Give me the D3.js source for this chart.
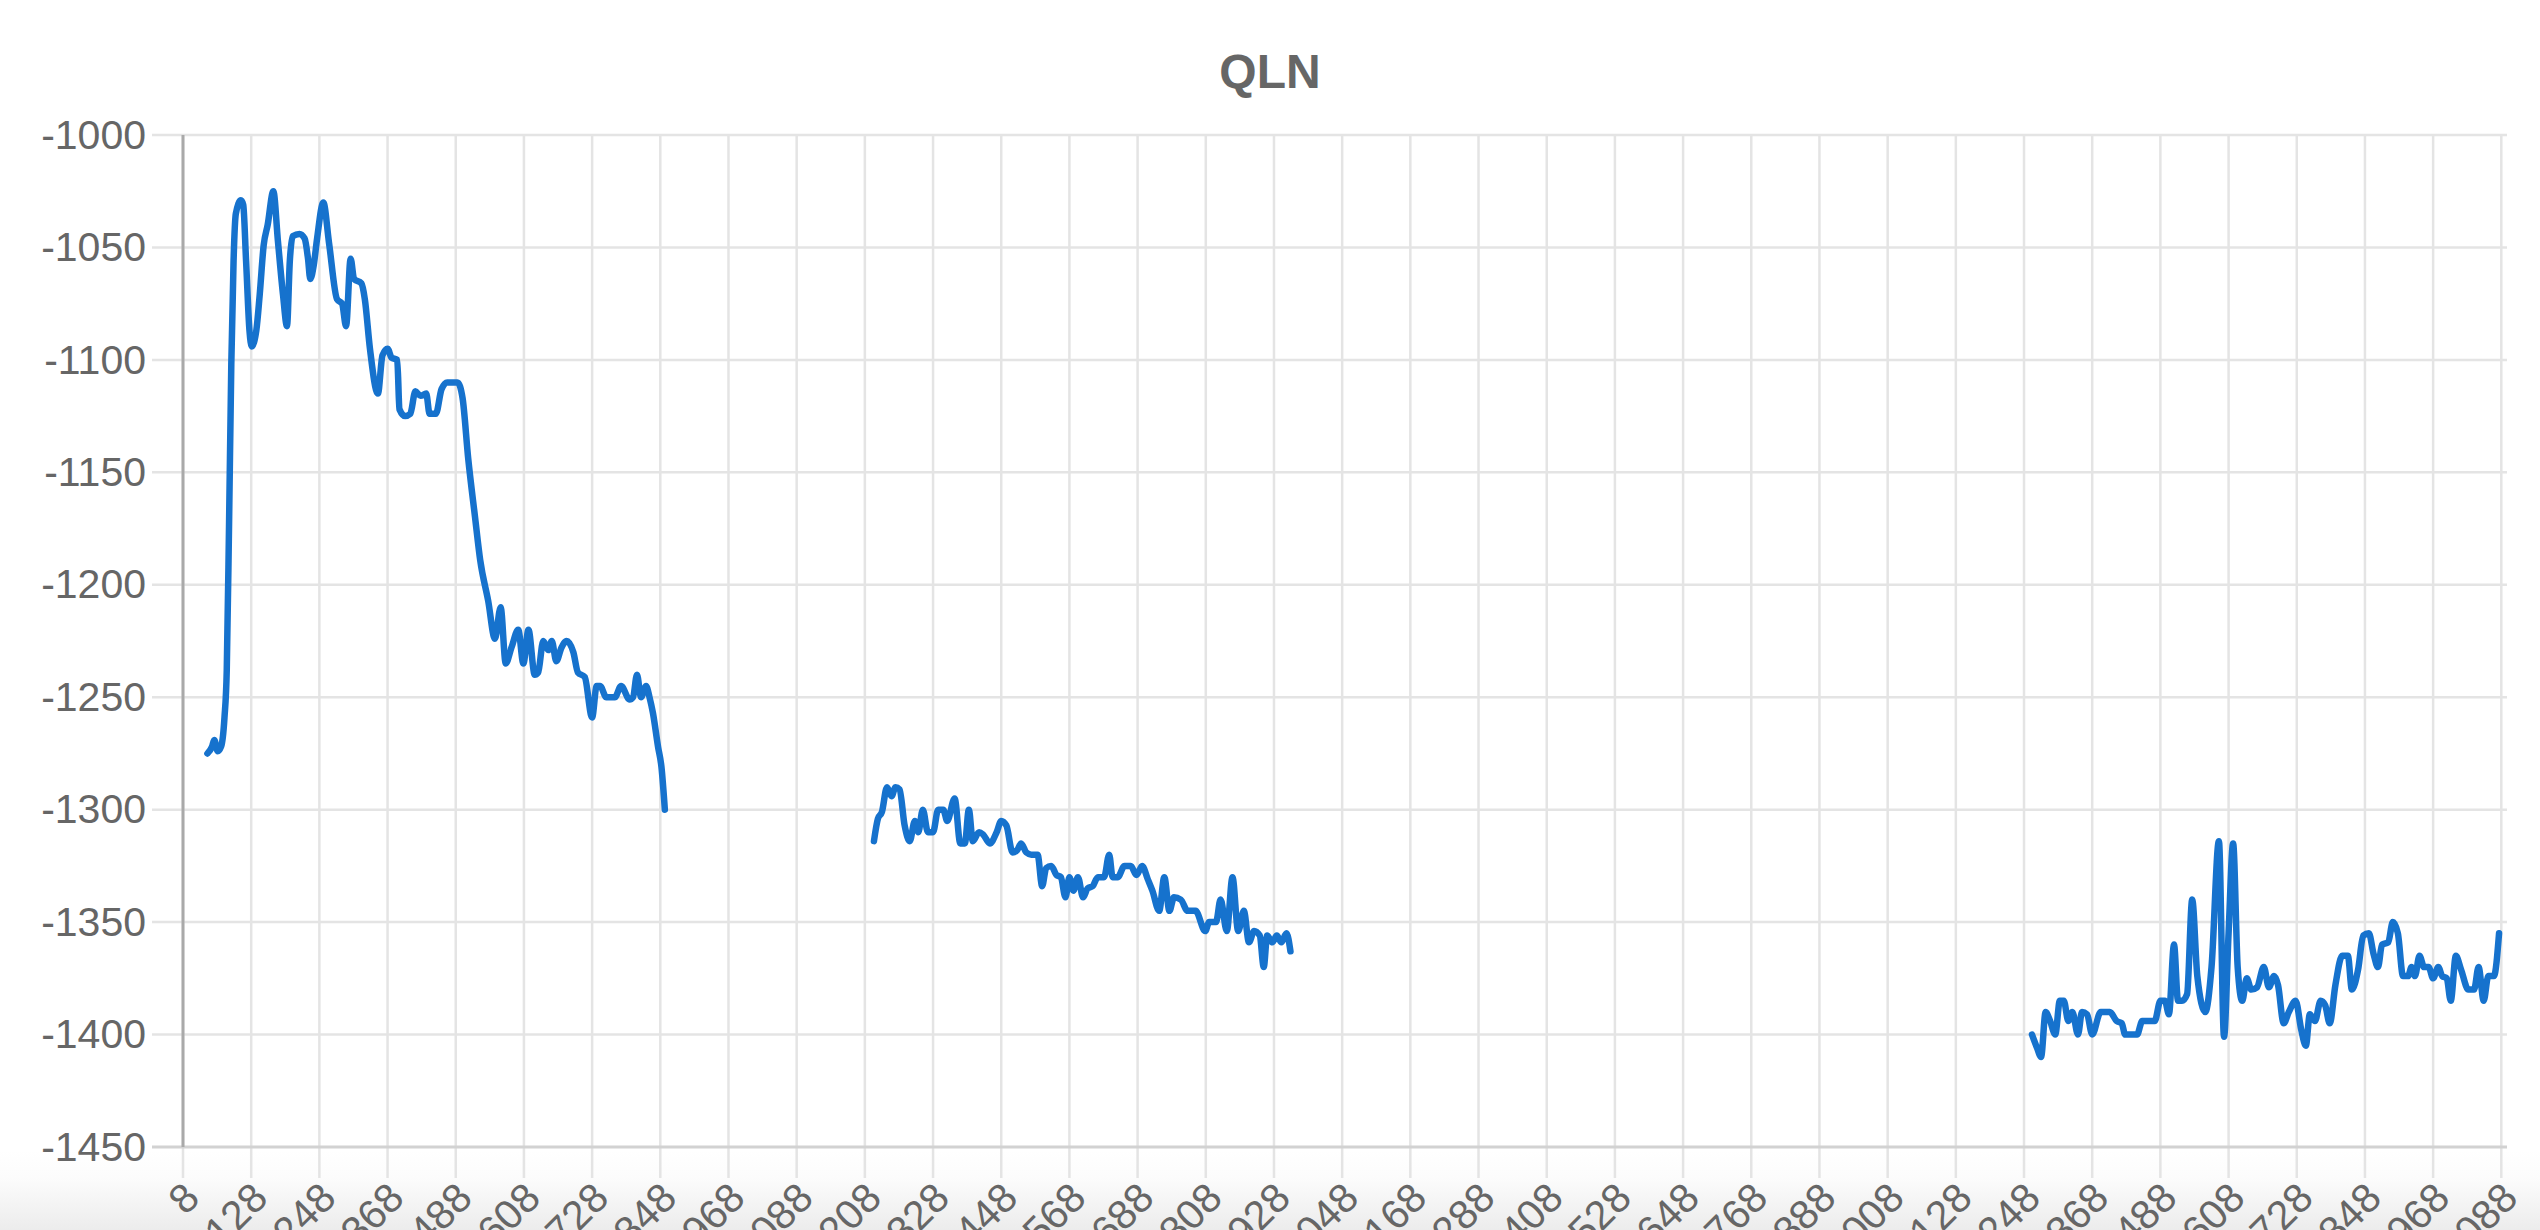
<!DOCTYPE html>
<html>
<head>
<meta charset="utf-8">
<title>QLN</title>
<script src="https://cdn.jsdelivr.net/npm/d3@7"></script>
<style>
   html, body {margin: 0; padding: 0; background: #ffffff;}
   #chartDiv {width: 2540px; height: 1230px; overflow: hidden;}
</style>
</head>
<body>
<div id="chartDiv"></div>
<script>
//----------------------------------------------------------------------------------------------------
var chartTitle = "QLN";

var yTickValues = [-1450, -1400, -1350, -1300, -1250, -1200, -1150, -1100, -1050, -1000];

var xTickValues = [8, 128, 248, 368, 488, 608, 728, 848, 968, 1088, 1208, 1328, 1448, 1568,
                   1688, 1808, 1928, 2048, 2168, 2288, 2408, 2528, 2648, 2768, 2888, 3008,
                   3128, 3248, 3368, 3488, 3608, 3728, 3848, 3968, 4088];

   // the series has two gaps, so it is kept as three runs of (index, value)
var seg1Index = [51, 59, 63, 69, 75, 81, 85, 89, 93, 97, 101, 110, 114, 119, 125, 129, 137, 143,
                 150, 157, 167, 175, 184, 191, 196, 201, 213, 222, 228, 232, 238, 244, 255, 265,
                 279, 288, 295, 303, 309, 322, 328, 337, 351, 359, 368, 375, 385, 389, 399, 408,
                 417, 426, 436, 442, 453, 463, 473, 491, 500, 510, 522, 531, 545, 557, 567, 576,
                 586, 598, 607, 616, 627, 633, 642, 651, 657, 665, 674, 683, 695, 703, 715, 728,
                 736, 742, 753, 768, 779, 794, 800, 807, 814, 823, 829, 835, 844, 850, 856];
var seg1Value = [-1275, -1272, -1269, -1274, -1272, -1259, -1238, -1174, -1102, -1056, -1035,
                 -1029, -1031, -1056, -1087, -1094, -1087, -1071, -1049, -1040, -1025, -1047,
                 -1071, -1085, -1056, -1045, -1044, -1046, -1055, -1064, -1058, -1046, -1030,
                 -1048, -1073, -1075, -1085, -1055, -1064, -1066, -1073, -1095, -1115, -1098,
                 -1095, -1099, -1100, -1122, -1125, -1124, -1114, -1116, -1115, -1124, -1124,
                 -1113, -1110, -1110, -1117, -1144, -1170, -1189, -1207, -1224, -1210, -1235,
                 -1228, -1220, -1235, -1220, -1240, -1239, -1225, -1229, -1225, -1234, -1228,
                 -1225, -1230, -1239, -1241, -1259, -1245, -1245, -1250, -1250, -1245, -1251,
                 -1250, -1240, -1250, -1245, -1250, -1257, -1272, -1281, -1300];

var seg2Index = [1224, 1231, 1238, 1247, 1255, 1262, 1269, 1278, 1287, 1296, 1302, 1310, 1319,
                 1328, 1337, 1346, 1353, 1366, 1376, 1384, 1391, 1398, 1409, 1416, 1428, 1440,
                 1448, 1457, 1468, 1476, 1483, 1492, 1501, 1512, 1520, 1527, 1536, 1545, 1553,
                 1561, 1568, 1575, 1583, 1592, 1600, 1609, 1618, 1629, 1638, 1644, 1653, 1665,
                 1676, 1686, 1696, 1706, 1714, 1726, 1735, 1744, 1752, 1764, 1776, 1790, 1807,
                 1814, 1826, 1834, 1845, 1855, 1865, 1875, 1884, 1893, 1903, 1910, 1916, 1925,
                 1933, 1941, 1950, 1957];
var seg2Value = [-1314, -1304, -1301, -1290, -1294, -1290, -1291, -1307, -1314, -1305, -1310,
                 -1300, -1310, -1310, -1300, -1300, -1305, -1295, -1315, -1315, -1300, -1314,
                 -1310, -1311, -1315, -1310, -1305, -1307, -1319, -1318, -1315, -1319, -1320,
                 -1320, -1334, -1326, -1325, -1329, -1330, -1339, -1330, -1336, -1330, -1339,
                 -1335, -1334, -1330, -1330, -1320, -1330, -1330, -1325, -1325, -1329, -1325,
                 -1331, -1336, -1345, -1330, -1345, -1339, -1340, -1345, -1345, -1354, -1350,
                 -1350, -1340, -1354, -1330, -1354, -1345, -1359, -1354, -1356, -1370, -1356,
                 -1359, -1356, -1359, -1355, -1363];

var seg3Index = [3262, 3271, 3278, 3286, 3294, 3303, 3311, 3318, 3326, 3333, 3343, 3350, 3359,
                 3368, 3383, 3399, 3411, 3420, 3426, 3447, 3456, 3478, 3488, 3496, 3503, 3512,
                 3519, 3526, 3535, 3544, 3553, 3567, 3578, 3591, 3600, 3608, 3616, 3624, 3632,
                 3640, 3648, 3658, 3670, 3679, 3688, 3695, 3705, 3714, 3726, 3736, 3744, 3751,
                 3760, 3770, 3778, 3786, 3796, 3808, 3818, 3825, 3836, 3845, 3855, 3863, 3871,
                 3878, 3889, 3897, 3906, 3915, 3924, 3930, 3936, 3944, 3952, 3960, 3968, 3977,
                 3984, 3992, 3999, 4008, 4017, 4030, 4040, 4048, 4057, 4065, 4075, 4084];
var seg3Value = [-1400, -1406, -1410, -1390, -1394, -1400, -1385, -1385, -1394, -1390, -1400,
                 -1390, -1391, -1400, -1390, -1390, -1394, -1395, -1400, -1400, -1394, -1394,
                 -1385, -1385, -1391, -1360, -1385, -1385, -1382, -1340, -1374, -1390, -1370,
                 -1314, -1401, -1355, -1315, -1370, -1385, -1375, -1380, -1379, -1370, -1379,
                 -1374, -1378, -1395, -1390, -1385, -1398, -1405, -1391, -1394, -1385, -1387,
                 -1395, -1378, -1365, -1365, -1380, -1371, -1356, -1355, -1364, -1370, -1360,
                 -1359, -1350, -1355, -1374, -1374, -1370, -1374, -1365, -1370, -1370, -1375,
                 -1370, -1374, -1375, -1385, -1365, -1371, -1380, -1380, -1370, -1385, -1374,
                 -1374, -1355];

var xDomain = [8, 4098];
var yDomain = [-1450, -1000];

//----------------------------------------------------------------------------------------------------
function zipSegment(indices, values)
{
   var points = [];
   for(var i=0; i < indices.length; i++){
      points.push({x: indices[i], y: values[i]});
      }
   return(points);

} // zipSegment
//----------------------------------------------------------------------------------------------------
function drawChart()
{
   var width = 2540;
   var height = 1230;
   var plotLeft = 183, plotRight = 2507, plotTop = 135, plotBottom = 1147;
   var tickLength = 31;
   var font = "'Liberation Sans', Arial, Helvetica, sans-serif";

   var xScale = d3.scaleLinear().domain(xDomain).range([plotLeft, plotRight]);
   var yScale = d3.scaleLinear().domain(yDomain).range([plotBottom, plotTop]);

   var svg = d3.select("#chartDiv")
      .append("svg")
      .attr("id", "plotSVG")
      .attr("width", width)
      .attr("height", height);

      // the faint shadow along the bottom edge of the screenshot
   var defs = svg.append("defs");
   var shade = defs.append("linearGradient")
      .attr("id", "bottomShade")
      .attr("x1", 0).attr("y1", 0).attr("x2", 0).attr("y2", 1);
   shade.append("stop").attr("offset", "0%").attr("stop-color", "#ffffff");
   shade.append("stop").attr("offset", "35%").attr("stop-color", "#fcfcfc");
   shade.append("stop").attr("offset", "100%").attr("stop-color", "#ececec");

   svg.append("rect")
      .attr("x", 0).attr("y", 1150)
      .attr("width", width).attr("height", height - 1150)
      .attr("fill", "url(#bottomShade)");

   svg.append("text")
      .attr("x", width / 2)
      .attr("y", 88)
      .attr("text-anchor", "middle")
      .style("font-family", font)
      .style("font-size", "48px")
      .style("font-weight", "bold")
      .style("fill", "#666666")
      .text(chartTitle);

      // grid lines, with the short tick stubs outside the plot area
   svg.append("g").selectAll("line.vgrid")
      .data(xTickValues)
      .enter()
      .append("line")
      .attr("class", "vgrid")
      .attr("x1", function(d){ return xScale(d); })
      .attr("x2", function(d){ return xScale(d); })
      .attr("y1", plotTop)
      .attr("y2", plotBottom + tickLength)
      .style("stroke", "#e4e4e4")
      .style("stroke-width", 2.5);

   svg.append("g").selectAll("line.hgrid")
      .data(yTickValues)
      .enter()
      .append("line")
      .attr("class", "hgrid")
      .attr("x1", plotLeft - tickLength)
      .attr("x2", plotRight)
      .attr("y1", function(d){ return yScale(d); })
      .attr("y2", function(d){ return yScale(d); })
      .style("stroke", function(d){ return d == yDomain[0] ? "#d2d2d2" : "#e4e4e4"; })
      .style("stroke-width", function(d){ return d == yDomain[0] ? 3 : 2.5; });

   svg.append("line")
      .attr("x1", plotLeft).attr("x2", plotLeft)
      .attr("y1", plotTop).attr("y2", plotBottom)
      .style("stroke", "#a9a9a9")
      .style("stroke-width", 3);

   const yAxis = d3.axisLeft(yScale)
      .tickValues(yTickValues)
      .tickSize(0)
      .tickPadding(37)
      .tickFormat(function(d){ return String(d); });

   var yAxisG = svg.append("g")
      .attr("transform", "translate(" + plotLeft + ",0)")
      .call(yAxis);
   yAxisG.select(".domain").remove();
   yAxisG.selectAll("text")
      .style("font-family", font)
      .style("font-size", "41px")
      .style("fill", "#666666");

   const xAxis = d3.axisBottom(xScale)
      .tickValues(xTickValues)
      .tickSize(0)
      .tickFormat(function(d){ return String(d); });

   var xAxisG = svg.append("g")
      .attr("transform", "translate(0," + plotBottom + ")")
      .call(xAxis);
   xAxisG.select(".domain").remove();
   xAxisG.selectAll("text")
      .attr("x", 0)
      .attr("y", 0)
      .attr("dy", "0.35em")
      .attr("text-anchor", "end")
      .attr("transform", "translate(8," + (tickLength + 12) + ") rotate(-45)")
      .style("font-family", font)
      .style("font-size", "41px")
      .style("fill", "#666666");

   var line = d3.line()
      .x(function(d){ return xScale(d.x); })
      .y(function(d){ return yScale(d.y); })
      .curve(d3.curveMonotoneX);

   var segments = [zipSegment(seg1Index, seg1Value),
                   zipSegment(seg2Index, seg2Value),
                   zipSegment(seg3Index, seg3Value)];

   svg.append("g").selectAll("path.series")
      .data(segments)
      .enter()
      .append("path")
      .attr("class", "series")
      .attr("d", line)
      .style("fill", "none")
      .style("stroke", "#1672cd")
      .style("stroke-width", 6.5)
      .style("stroke-linejoin", "round")
      .style("stroke-linecap", "round");

} // drawChart
//----------------------------------------------------------------------------------------------------
drawChart();

</script>
</body>
</html>
